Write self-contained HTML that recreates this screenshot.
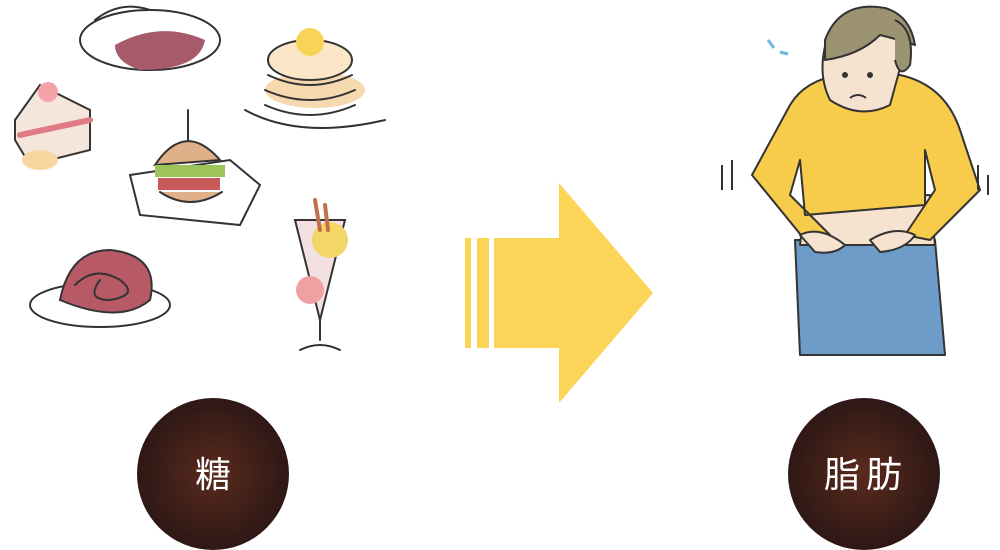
<!DOCTYPE html>
<html><head><meta charset="utf-8"><style>
html,body{margin:0;padding:0;background:#fff;width:1000px;height:550px;overflow:hidden}
</style></head><body>
<svg width="1000" height="550" viewBox="0 0 1000 550" xmlns="http://www.w3.org/2000/svg">
<defs>
<radialGradient id="g" cx="50%" cy="50%" r="50%">
<stop offset="0" stop-color="#5a2a1c"/><stop offset="1" stop-color="#2e1816"/>
</radialGradient>
</defs>
<g stroke="#333" stroke-width="2" fill="none" stroke-linecap="round">
 <ellipse cx="150" cy="40" rx="70" ry="30"/>
 <path d="M115 45 Q160 20 205 40 Q200 70 140 70 Q115 62 115 45Z" fill="#a65a6a" stroke="none"/>
 <path d="M95 20 Q120 0 150 10" />
 <path d="M15 120 L40 85 L90 110 L90 150 L30 165 L15 140Z" fill="#f5e6dc"/>
 <path d="M20 135 L90 120" stroke="#e07a85" stroke-width="6"/>
 <circle cx="48" cy="92" r="10" fill="#f3a3a8" stroke="none"/>
 <ellipse cx="40" cy="160" rx="18" ry="10" fill="#f7d7a0" stroke="none"/>
 <ellipse cx="315" cy="90" rx="50" ry="18" fill="#f7d9b0" stroke="none"/>
 <ellipse cx="310" cy="60" rx="42" ry="20" fill="#fbe6c8"/>
 <path d="M268 75 Q310 95 352 75 M265 90 Q310 110 355 90 M265 105 Q310 125 355 105"/>
 <path d="M245 110 Q300 140 385 120"/>
 <circle cx="310" cy="42" r="14" fill="#f8d456" stroke="none"/>
 <path d="M130 175 L230 160 L260 185 L240 225 L140 215Z"/>
 <path d="M155 165 Q185 120 220 160Z" fill="#e0b088" stroke="#333"/>
 <rect x="155" y="165" width="70" height="12" fill="#9cc45a" stroke="none"/>
 <rect x="158" y="178" width="62" height="12" fill="#c85a5a" stroke="none"/>
 <path d="M160 192 Q190 212 222 192" fill="#e0b088"/>
 <line x1="188" y1="110" x2="188" y2="140"/>
 <ellipse cx="100" cy="305" rx="70" ry="22"/>
 <path d="M60 300 Q70 250 110 250 Q160 255 150 300 Q120 325 60 300Z" fill="#b85a66" stroke="#333"/>
 <path d="M75 285 Q95 265 120 280 Q140 295 110 300 Q85 300 100 280"/>
 <path d="M295 220 L345 220 L320 320 Z" fill="#f3e1e1"/>
 <circle cx="330" cy="240" r="18" fill="#f4d667" stroke="none"/>
 <circle cx="310" cy="290" r="14" fill="#f0a0a0" stroke="none"/>
 <path d="M320 320 L320 340 M300 350 Q320 340 340 350"/>
 <path d="M315 200 L320 230 M325 205 L328 230" stroke="#c0704a" stroke-width="4"/>
</g>
<g fill="#fcd558">
 <rect x="465" y="238" width="6" height="110"/>
 <rect x="477" y="238" width="12" height="110"/>
 <rect x="494" y="238" width="66" height="110"/>
 <polygon points="559,183 653,293 559,403"/>
</g>
<!-- woman -->
<g stroke="#333" stroke-width="2" stroke-linejoin="round">
 <path d="M795 240 L935 240 L945 355 L800 355Z" fill="#6d9cc9"/>
 <path d="M805 200 L930 195 L935 245 L800 245Z" fill="#f5e2cf"/>
 <path d="M790 105 Q805 80 840 75 L900 75 Q945 85 960 130 L980 190 L930 240 L905 235 L935 190 L925 150 L925 205 L805 215 L800 160 L790 195 L830 235 L805 240 L752 175 Z" fill="#f7cc4b"/>
 <path d="M800 235 Q820 225 845 245 Q835 255 815 252Z M870 240 Q895 225 915 235 Q905 250 880 252Z" fill="#f5e2cf"/>
 <path d="M830 30 Q850 5 880 10 Q905 20 905 50 L890 105 Q860 120 830 100 Q815 70 830 30Z" fill="#f5e2cf"/>
 <path d="M825 40 Q840 0 885 8 Q910 15 915 45 Q900 40 880 35 Q860 55 825 60Z" fill="#9a9270"/>
 <path d="M895 20 Q915 30 910 65 Q900 80 895 60" fill="#9a9270"/>
 <circle cx="845" cy="75" r="2" fill="#333"/>
 <circle cx="870" cy="75" r="2" fill="#333"/>
 <path d="M850 98 Q858 92 866 98" fill="none"/>
</g>
<path d="M768 40 l6 8 M780 52 l8 2" stroke="#6bb8e0" stroke-width="3"/>
<path d="M722 165 v25 M732 160 v30 M978 165 v25 M988 175 v20" stroke="#333" stroke-width="2"/>
<circle cx="213" cy="474" r="76" fill="url(#g)"/>
<circle cx="864" cy="474" r="76" fill="url(#g)"/>
<text x="213" y="487" font-family="Liberation Sans, Noto Sans CJK JP, sans-serif" font-size="36" fill="#fff" text-anchor="middle">糖</text>
<text x="866" y="487" font-family="Liberation Sans, Noto Sans CJK JP, sans-serif" font-size="36" fill="#fff" text-anchor="middle" letter-spacing="6">脂肪</text>
</svg>
</body></html>
